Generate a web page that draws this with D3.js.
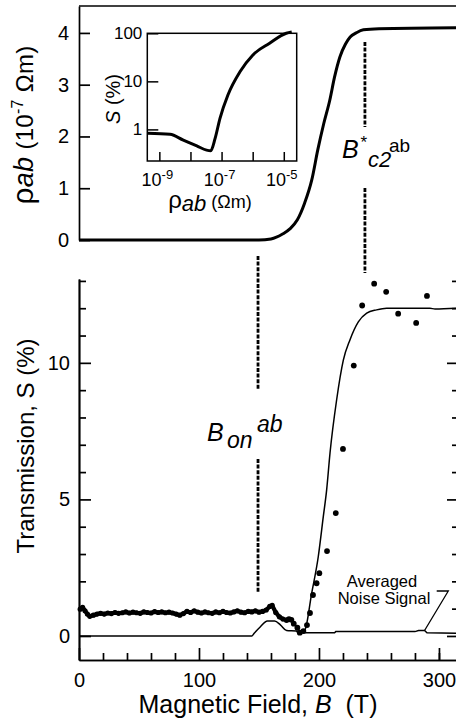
<!DOCTYPE html>
<html>
<head>
<meta charset="utf-8">
<script src="https://cdn.jsdelivr.net/npm/d3@7/dist/d3.min.js"></script>
<style>
  html, body { margin: 0; padding: 0; background: #fff; }
  svg { display: block; font-family: "Liberation Sans", Arial, Helvetica, sans-serif; }
</style>
</head>
<body>
<script>
// ---------------- DATA ----------------
// Top panel: in-plane resistivity rho_ab (10^-7 Ohm m) vs magnetic field B (T)
const rhoB = [0, 150, 160, 170, 176, 182, 188, 194, 199, 204, 209, 213, 217.5, 222, 226, 231, 237, 250, 316.7];
const rhoV = [0, 0, 0.02, 0.12, 0.22, 0.39, 0.71, 1.16, 1.74, 2.25, 2.7, 3.15, 3.54, 3.78, 3.92, 4.0, 4.06, 4.08, 4.1];
const rhoTicks = [0, 1, 2, 3, 4];

// Inset: S (%) vs rho_ab (Ohm m), log-log
const insetRho = [4.2e-10, 2.2e-9, 5.9e-9, 1.6e-8, 3.3e-8, 4.5e-8, 6.2e-8, 8.9e-8, 1.6e-7, 3.9e-7, 1.0e-6, 3.5e-6, 1.2e-5, 1.8e-5];
const insetS   = [0.83, 0.79, 0.60, 0.455, 0.37, 0.36, 0.65, 1.7, 5.2, 15.8, 35, 62, 100, 106];
const insetXTicks = [1e-9, 1e-8, 1e-7, 1e-6, 1e-5];
const insetXLabels = [[1e-9, "-9"], [1e-7, "-7"], [1e-5, "-5"]];
const insetYTicks = [1, 10, 100];

// Bottom panel: measured transmission (dense noisy record)
const noiseB = [1,3,5,7,9,12,15,18,21,24,27,30,33,36,39,42,45,48,51,54,57,60,63,66,69,72,75,78,81,84,87,90,93,96,99,102,105,108,111,114,117,120,123,126,129,132,135,138,141,144,147,150,153,156,159,161,164,167,170];
const noiseS = [0.98,1.05,0.92,0.80,0.72,0.76,0.80,0.83,0.80,0.84,0.82,0.86,0.83,0.85,0.88,0.84,0.87,0.85,0.83,0.88,0.86,0.84,0.89,0.86,0.88,0.85,0.87,0.84,0.80,0.76,0.82,0.90,0.86,0.92,0.87,0.84,0.88,0.85,0.83,0.88,0.85,0.90,0.86,0.84,0.88,0.92,0.87,0.85,0.90,0.88,0.92,0.87,0.90,0.95,1.08,1.12,0.86,0.70,0.62];
// Bottom panel: individual data points
const dotB = [173, 175, 177, 179, 182, 184, 187, 190, 192.5, 195, 198, 200.3, 206.7, 214, 220, 229, 236, 246, 256, 266, 281, 290];
const dotS = [0.58, 0.62, 0.59, 0.45, 0.30, 0.12, 0.18, 0.40, 0.84, 1.50, 1.93, 2.30, 3.11, 4.5, 6.85, 9.9, 12.1, 12.9, 12.6, 11.8, 11.46, 12.45];
// Calculated transmission curve
const fitB = [0, 144, 146, 151, 157, 163, 168, 173, 181, 186, 188.3, 193.9, 199.4, 203.6, 206.4, 209.2, 214.7, 220.3, 225.8, 232.8, 239.8, 248, 256.4, 292.5, 296.7, 316.7];
const fitS = [0, 0, 0.1, 0.33, 0.55, 0.55, 0.4, 0.2, 0.18, 0.15, 0.22, 1.56, 2.9, 4.37, 5.35, 6.7, 8.64, 10.1, 10.84, 11.5, 11.82, 11.94, 12.0, 12.0, 11.97, 12.0];
// Averaged noise signal
const avgB = [181, 188, 213, 214, 280, 283, 288, 290, 316.7];
const avgS = [0.16, 0.12, 0.12, 0.16, 0.16, 0.2, 0.2, 0.12, 0.1];

const xMajor = [0, 100, 200, 300];
const xMinor = [20, 40, 60, 80, 120, 140, 160, 180, 220, 240, 260, 280, 300];
const sMajor = [0, 5, 10];
const sMinor = [1, 2, 3, 4, 6, 7, 8, 9, 11, 12, 13];

const bOn = 149.2;     // B_on^ab
const bC2 = 238.3;     // B*_c2^ab

// ---------------- SCALES ----------------
const W = 456, H = 722;
const svg = d3.select("body").append("svg").attr("width", W).attr("height", H);

const x = d3.scaleLinear().domain([0, 316.7]).range([79, 459]);
const yTop = d3.scaleLinear().domain([0, 4.52]).range([240, 6]);
const yBot = d3.scaleLinear().domain([-0.88, 13.07]).range([660, 279]);
const xIn = d3.scaleLog().domain([4.1e-10, 2.6e-5]).range([147.3, 296.7]);
const yIn = d3.scaleLog().domain([0.22, 100]).range([161, 33.3]);

function styleAxis(g, sw) {
  g.selectAll("path.domain").attr("stroke", "#000").attr("stroke-width", sw);
  g.selectAll(".tick line").attr("stroke", "#000").attr("stroke-width", sw);
  g.selectAll(".tick text").attr("fill", "#000").attr("font-family", "Liberation Sans, Arial, sans-serif");
}

// ---------------- TOP PANEL ----------------
svg.append("line").attr("x1", x(0)).attr("x2", W).attr("y1", yTop(4.52)).attr("y2", yTop(4.52))
  .attr("stroke", "#000").attr("stroke-width", 1.6);

const gTopL = svg.append("g").attr("transform", `translate(${x(0)},0)`)
  .call(d3.axisLeft(yTop).tickValues(rhoTicks).tickFormat(d3.format("d")).tickSizeInner(-11).tickSizeOuter(0).tickPadding(10));
gTopL.selectAll(".tick text").attr("font-size", 20);
styleAxis(gTopL, 1.7);

svg.append("path")
  .datum(rhoB.map((b, i) => [b, rhoV[i]]))
  .attr("fill", "none").attr("stroke", "#000").attr("stroke-width", 3)
  .attr("d", d3.line().x(d => x(d[0])).y(d => yTop(d[1])).curve(d3.curveMonotoneX));

// Top y label
const tl = svg.append("text").attr("transform", "translate(33,125) rotate(-90)")
  .attr("text-anchor", "middle").attr("font-size", 24).attr("letter-spacing", 0.3).attr("fill", "#000");
tl.append("tspan").attr("font-size", 30).text("ρ");
tl.append("tspan").attr("font-size", 27).attr("font-style", "italic").text("ab");
tl.append("tspan").text(" (10");
tl.append("tspan").attr("font-size", 16).attr("dy", -10).text("-7");
tl.append("tspan").attr("dy", 10).text(" Ωm)");

// B*c2 dashed line and label
const dashStyle = sel => sel.attr("stroke", "#000").attr("stroke-width", 2.8).attr("stroke-dasharray", "4,1.6");
svg.append("line").attr("x1", x(bC2)).attr("x2", x(bC2)).attr("y1", 42).attr("y2", 127).call(dashStyle);
svg.append("line").attr("x1", x(bC2)).attr("x2", x(bC2)).attr("y1", 188).attr("y2", 273).call(dashStyle);
svg.append("text").attr("x", 342).attr("y", 158).attr("font-size", 25).attr("font-style", "italic")
  .attr("fill", "#000").text("B");
svg.append("text").attr("x", 360.5).attr("y", 148).attr("font-size", 17).attr("fill", "#000").text("*");
svg.append("text").attr("x", 368).attr("y", 167).attr("font-size", 22).attr("font-style", "italic")
  .attr("fill", "#000").text("c2");
svg.append("text").attr("x", 389).attr("y", 152).attr("font-size", 19).attr("fill", "#000").text("ab");

// ---------------- INSET ----------------
svg.append("rect").attr("x", 147.3).attr("y", 33.3).attr("width", 296.7 - 147.3).attr("height", 161 - 33.3)
  .attr("fill", "none").attr("stroke", "#000").attr("stroke-width", 1.5);
const gInB = svg.append("g").attr("transform", "translate(0,161)")
  .call(d3.axisBottom(xIn).tickValues(insetXTicks).tickFormat("").tickSizeInner(-9).tickSizeOuter(0));
styleAxis(gInB, 1.5);
gInB.select("path.domain").remove();
const gInL = svg.append("g").attr("transform", "translate(147.3,0)")
  .call(d3.axisLeft(yIn).tickValues(insetYTicks).tickFormat(d3.format("d")).tickSizeInner(-11).tickSizeOuter(0).tickPadding(5));
gInL.selectAll(".tick text").attr("font-size", 17);
styleAxis(gInL, 1.5);
gInL.select("path.domain").remove();

insetXLabels.forEach(([v, e]) => {
  const t = svg.append("text").attr("x", xIn(v) - 2).attr("y", 186).attr("text-anchor", "middle")
    .attr("font-size", 18).attr("fill", "#000");
  t.append("tspan").text("10");
  t.append("tspan").attr("font-size", 13).attr("dy", -7).text(e);
});

svg.append("path")
  .datum(insetRho.map((r, i) => [r, insetS[i]]))
  .attr("fill", "none").attr("stroke", "#000").attr("stroke-width", 3)
  .attr("d", d3.line().x(d => xIn(d[0])).y(d => yIn(d[1])).curve(d3.curveMonotoneX));

const isl = svg.append("text").attr("transform", "translate(120,99) rotate(-90)")
  .attr("text-anchor", "middle").attr("font-size", 20).attr("fill", "#000");
isl.append("tspan").attr("font-style", "italic").text("S");
isl.append("tspan").text(" (%)");

const ixl = svg.append("text").attr("x", 210).attr("y", 208).attr("text-anchor", "middle")
  .attr("font-size", 19).attr("fill", "#000");
ixl.append("tspan").attr("font-size", 24).text("ρ");
ixl.append("tspan").attr("font-style", "italic").attr("font-size", 22).attr("dy", 3).text("ab");
ixl.append("tspan").attr("dy", -3).attr("font-size", 18).text(" (Ωm)");

// ---------------- BOTTOM PANEL ----------------
const gBL = svg.append("g").attr("transform", `translate(${x(0)},0)`)
  .call(d3.axisLeft(yBot).tickValues(sMajor).tickSizeInner(-12).tickSizeOuter(0).tickPadding(9));
gBL.selectAll(".tick text").attr("font-size", 20);
styleAxis(gBL, 1.7);
const gBLm = svg.append("g").attr("transform", `translate(${x(0)},0)`)
  .call(d3.axisLeft(yBot).tickValues(sMinor).tickFormat("").tickSizeInner(-7).tickSizeOuter(0));
styleAxis(gBLm, 1.7);

const gBR = svg.append("g").attr("transform", `translate(459,0)`)
  .call(d3.axisRight(yBot).tickValues(sMajor).tickFormat("").tickSizeInner(-12).tickSizeOuter(0));
styleAxis(gBR, 1.7);
const gBRm = svg.append("g").attr("transform", `translate(459,0)`)
  .call(d3.axisRight(yBot).tickValues(sMinor).tickFormat("").tickSizeInner(-7).tickSizeOuter(0));
styleAxis(gBRm, 1.7);

const gBB = svg.append("g").attr("transform", "translate(0,660)")
  .call(d3.axisBottom(x).tickValues(xMajor).tickSizeInner(-12).tickSizeOuter(0).tickPadding(12.8));
gBB.selectAll(".tick text").attr("font-size", 20);
styleAxis(gBB, 1.7);
const gBBm = svg.append("g").attr("transform", "translate(0,660)")
  .call(d3.axisBottom(x).tickValues(xMinor).tickFormat("").tickSizeInner(-7).tickSizeOuter(0));
styleAxis(gBBm, 1.7);

// noisy measured record (thick band)
const noisePts = noiseB.map((b, i) => [b, noiseS[i]]);
svg.append("path").datum(noisePts)
  .attr("fill", "none").attr("stroke", "#000").attr("stroke-width", 4.2).attr("stroke-linejoin", "round")
  .attr("d", d3.line().x(d => x(d[0])).y(d => yBot(d[1])));
svg.append("g").selectAll("circle").data(noisePts).join("circle")
  .attr("cx", d => x(d[0])).attr("cy", d => yBot(d[1])).attr("r", 2.6).attr("fill", "#000");

// calculated curve
svg.append("path").datum(fitB.map((b, i) => [b, fitS[i]]))
  .attr("fill", "none").attr("stroke", "#000").attr("stroke-width", 1.5)
  .attr("d", d3.line().x(d => x(d[0])).y(d => yBot(d[1])).curve(d3.curveMonotoneX));

// averaged noise signal
svg.append("path").datum(avgB.map((b, i) => [b, avgS[i]]))
  .attr("fill", "none").attr("stroke", "#000").attr("stroke-width", 1.5)
  .attr("d", d3.line().x(d => x(d[0])).y(d => yBot(d[1])));

// data points
svg.append("g").selectAll("circle").data(dotB.map((b, i) => [b, dotS[i]])).join("circle")
  .attr("cx", d => x(d[0])).attr("cy", d => yBot(d[1])).attr("r", 2.9).attr("fill", "#000");

// B_on dashed line and label
svg.append("line").attr("x1", x(bOn)).attr("x2", x(bOn)).attr("y1", 256).attr("y2", 390).call(dashStyle);
svg.append("line").attr("x1", x(bOn)).attr("x2", x(bOn)).attr("y1", 459).attr("y2", 592).call(dashStyle);
svg.append("text").attr("x", 207).attr("y", 441).attr("font-size", 25).attr("font-style", "italic")
  .attr("fill", "#000").text("B");
svg.append("text").attr("x", 227).attr("y", 448).attr("font-size", 23).attr("font-style", "italic")
  .attr("fill", "#000").text("on");
svg.append("text").attr("x", 257).attr("y", 432).attr("font-size", 23).attr("font-style", "italic")
  .attr("fill", "#000").text("ab");

// Averaged Noise Signal annotation
svg.append("text").attr("x", 382).attr("y", 587).attr("text-anchor", "middle").attr("font-size", 16.5)
  .attr("fill", "#000").text("Averaged");
svg.append("text").attr("x", 384).attr("y", 604).attr("text-anchor", "middle").attr("font-size", 16.5)
  .attr("fill", "#000").text("Noise Signal");
svg.append("path").attr("d", `M436.7,591 L448.3,591 L${x(288)},${yBot(0.2)}`)
  .attr("fill", "none").attr("stroke", "#000").attr("stroke-width", 1.3);

// axis labels
const xl = svg.append("text").attr("x", 258).attr("y", 713).attr("text-anchor", "middle")
  .attr("font-size", 25).attr("fill", "#000");
xl.append("tspan").text("Magnetic Field, ");
xl.append("tspan").attr("font-style", "italic").text("B");
xl.append("tspan").text("\u00a0 (T)");

svg.append("text").attr("transform", "translate(34,446) rotate(-90)")
  .attr("text-anchor", "middle").attr("font-size", 24).attr("fill", "#000")
  .text("Transmission, S (%)");
</script>
</body>
</html>
